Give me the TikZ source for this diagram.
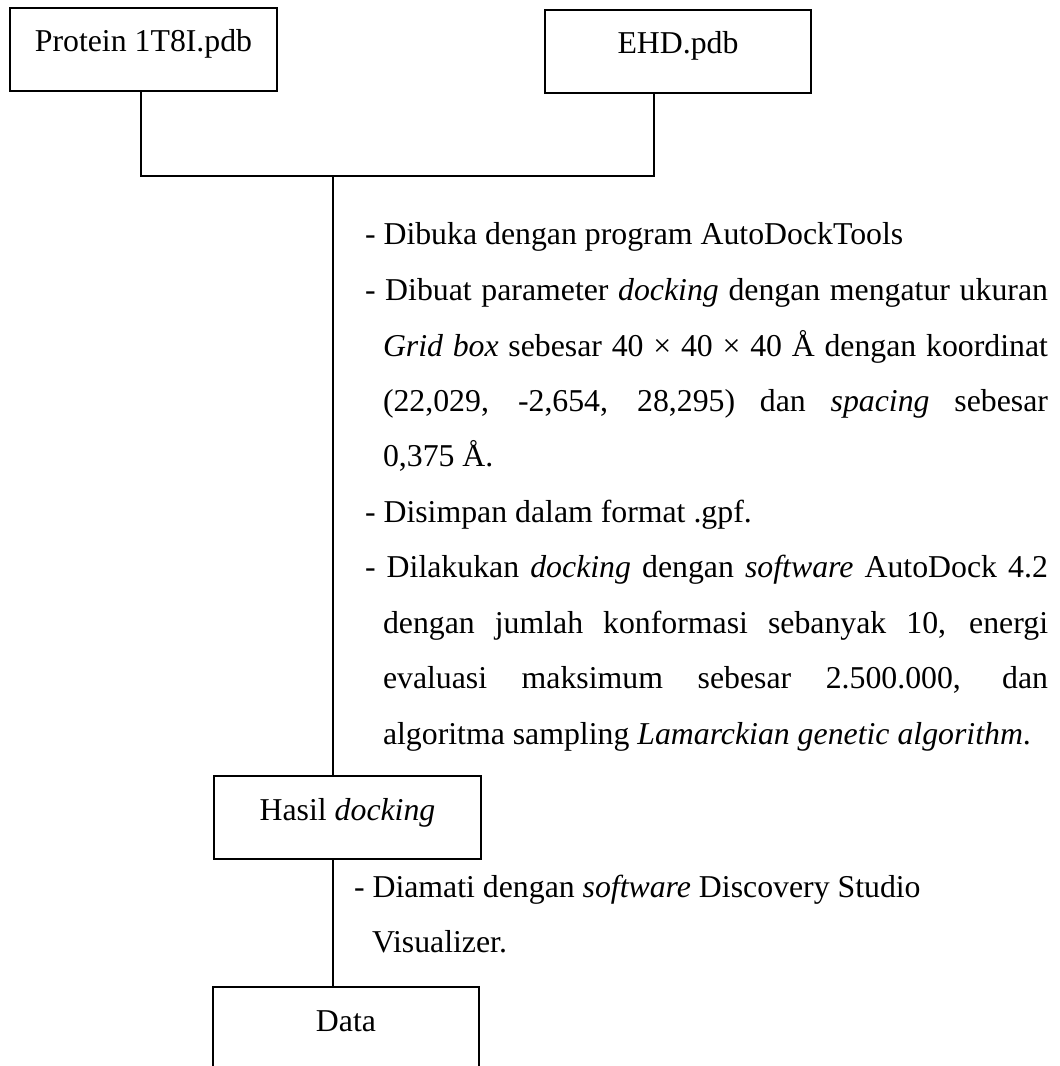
\documentclass[tikz,border=0pt]{standalone}
\usepackage{fontspec}
\setmainfont{Liberation Serif}
\newcommand\jline[2]{\hbox to #1{#2}}
\begin{document}
\begin{tikzpicture}[x=0.3774pt,y=-0.3774pt,
  flowbox/.style={draw=black, line width=0.75pt, inner sep=0pt, outer sep=0pt,
    minimum width=100.6pt, text height=16.61pt, text depth=14.72pt, anchor=base,
    font=\fontsize{12pt}{14pt}\selectfont},
  link/.style={draw=black, line width=0.45pt},
  txt/.style={anchor=base west, inner sep=0pt, outer sep=0pt,
    font=\fontsize{12pt}{14pt}\selectfont}]
\useasboundingbox (0,0) rectangle (1060,1066);
\begin{scope}
\clip (0,0) rectangle (1060,1066);

% boxes
\node[flowbox] (prot) at (143.5,52) {Protein 1T8I.pdb};
\node[flowbox] (ehd)  at (678,54)   {EHD.pdb};
\node[flowbox] (hasil) at (347.5,820) {Hasil \textit{docking}};
\node[flowbox] (data) at (346,1031) {Data};

% junction points
\coordinate (jl) at (141,176);
\coordinate (jr) at (654,176);
\coordinate (jm) at (333,176);

% connectors
\draw[link] (prot.south -| jl) -- (jl) -- (jr) -- (ehd.south -| jr);
\draw[link] (jm) -- (hasil.north -| jm);
\draw[link] (hasil.south -| jm) -- (data.north -| jm);

% steps between the ligand/protein files and the docking result
\node[txt] (s1) at (365,244) {- Dibuka dengan program AutoDockTools};
\node[txt] (s2) at (365,300) {\jline{257.76pt}{- Dibuat parameter \textit{docking} dengan mengatur ukuran}};
\node[txt] (s3) at (383,356) {\jline{250.97pt}{\textit{Grid box} sebesar 40 × 40 × 40 Å dengan koordinat}};
\node[txt] (s4) at (383,411) {\jline{250.97pt}{(22,029, -2,654, 28,295) dan \textit{spacing} sebesar}};
\node[txt] (s5) at (383,466) {0,375 Å.};
\node[txt] (s6) at (365,522) {- Disimpan dalam format .gpf.};
\node[txt] (s7) at (365,577) {\jline{257.76pt}{- Dilakukan \textit{docking} dengan \textit{software} AutoDock 4.2}};
\node[txt] (s8) at (383,633) {\jline{250.97pt}{dengan jumlah konformasi sebanyak 10, energi}};
\node[txt] (s9) at (383,688) {\jline{250.97pt}{evaluasi maksimum sebesar 2.500.000, dan}};
\node[txt] (s10) at (383,744) {algoritma sampling \textit{Lamarckian genetic algorithm}.};

% step between the docking result and the data
\node[txt] (v1) at (354,897) {- Diamati dengan \textit{software} Discovery Studio};
\node[txt] (v2) at (372,952) {Visualizer.};
\end{scope}
\end{tikzpicture}
\end{document}
